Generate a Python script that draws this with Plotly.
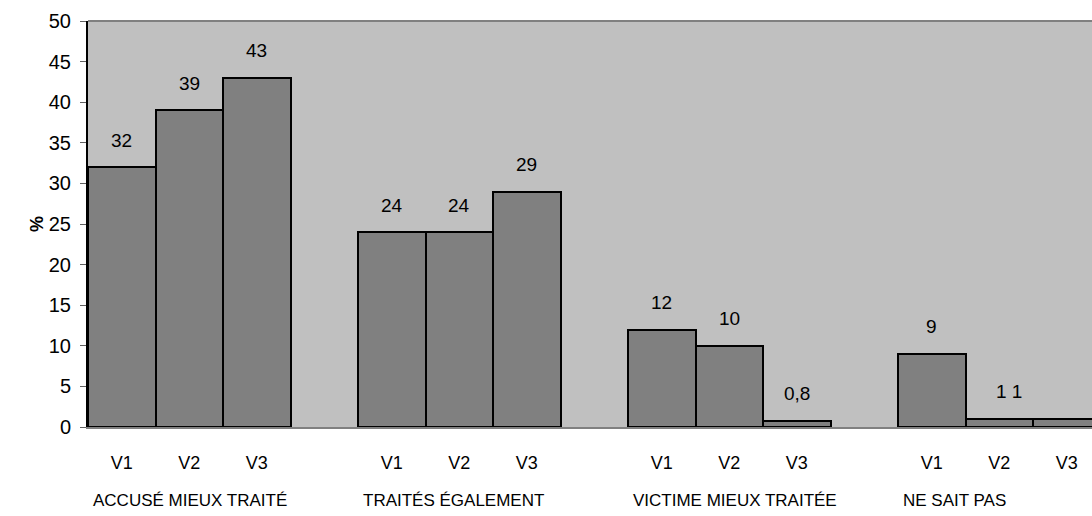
import plotly.graph_objects as go

groups = ["ACCUSÉ MIEUX TRAITÉ", "TRAITÉS ÉGALEMENT", "VICTIME MIEUX TRAITÉE", "NE SAIT PAS"]
versions = ["V1", "V2", "V3"]
values = [
    [32, 39, 43],
    [24, 24, 29],
    [12, 10, 0.8],
    [9, 1, 1],
]
labels = [
    ["32", "39", "43"],
    ["24", "24", "29"],
    ["12", "10", "0,8"],
    ["9", "1 1", ""],
]
y_ticks = [0, 5, 10, 15, 20, 25, 30, 35, 40, 45, 50]

FONT = "Liberation Sans, Arial, sans-serif"

xs, ys, tt = [], [], []
for g, vals in enumerate(values):
    for k, v in enumerate(vals):
        xs.append(g * 4 + k)
        ys.append(v)
        tt.append(versions[k])

fig = go.Figure()
fig.add_trace(go.Bar(
    x=xs, y=ys, width=1,
    marker=dict(color="#808080", line=dict(color="black", width=2)),
    hoverinfo="skip",
))

annotations = []
for g, labs in enumerate(labels):
    for k, lab in enumerate(labs):
        if not lab:
            continue
        xshift = 10 if lab == "1 1" else 0
        annotations.append(dict(
            x=g * 4 + k, y=values[g][k], xref="x", yref="y",
            text=lab, showarrow=False, yanchor="middle", yshift=27, xshift=xshift,
            font=dict(family=FONT, size=19, color="black"),
        ))
for g, name in enumerate(groups):
    annotations.append(dict(
        x=g * 4 - 0.5, y=-73 / 406, xref="x", yref="paper", yanchor="middle", xanchor="left",
        xshift=3,
        text=name, showarrow=False,
        font=dict(family=FONT, size=17, color="black"),
    ))

fig.update_layout(
    width=1092, height=516,
    margin=dict(l=88, r=0, t=21, b=89, autoexpand=False),
    paper_bgcolor="white", plot_bgcolor="#C0C0C0",
    showlegend=False, bargap=0,
    annotations=annotations,
    xaxis=dict(
        range=[-0.5, 14.374], tickvals=xs, ticktext=tt,
        showgrid=False, zeroline=False, showline=True, linecolor="#808080", linewidth=2,
        ticks="", ticklabelstandoff=18,
        tickfont=dict(family=FONT, size=18, color="black"),
    ),
    yaxis=dict(
        range=[0, 50], tickvals=y_ticks, showgrid=False, zeroline=False,
        showline=True, linecolor="black", linewidth=2,
        ticks="outside", ticklen=6, tickcolor="#606060", tickwidth=1,
        ticklabelstandoff=5,
        tickfont=dict(family=FONT, size=20, color="black"),
        title=dict(text="<b>%</b>", font=dict(family=FONT, size=18, color="black"), standoff=0),
    ),
    shapes=[dict(type="line", xref="paper", yref="paper", x0=0, x1=1, y0=1, y1=1,
                 line=dict(color="#808080", width=2))],
)

fig.write_html(
    "out.html",
    config={"displayModeBar": False},
    post_script="document.body.style.margin='0';document.body.style.overflow='hidden';",
)
